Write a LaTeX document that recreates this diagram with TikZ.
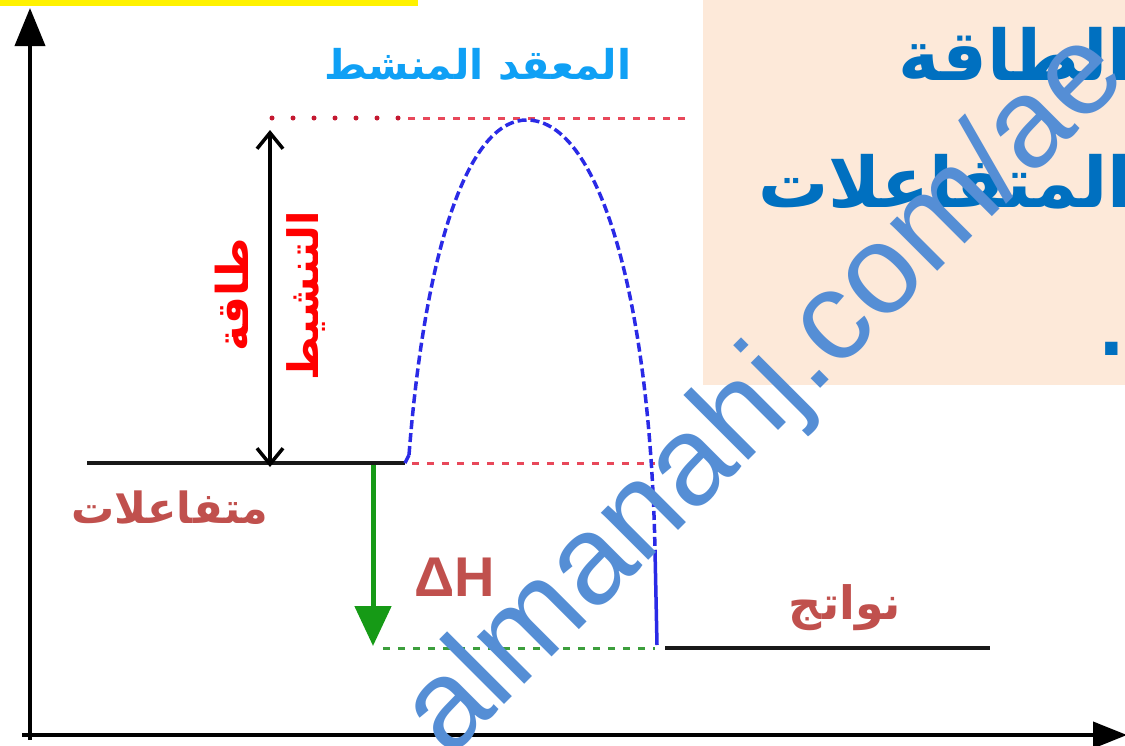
\documentclass[tikz,border=0pt]{standalone}
\usepackage{fontspec}
\setmainfont{Liberation Sans}
\newfontfamily\arabicfont[Script=Arabic]{DejaVu Sans}
\TeXXeTstate=1
\usetikzlibrary{arrows.meta}
\definecolor{peach}{HTML}{FDE9D9}
\definecolor{titleblue}{HTML}{0070C0}
\definecolor{cxblue}{HTML}{0FA0F5}
\definecolor{brick}{HTML}{C0504D}
\definecolor{curveblue}{HTML}{2A2AE6}
\definecolor{dotred}{HTML}{C41830}
\definecolor{dashred}{HTML}{E8485A}
\definecolor{dashgreen}{HTML}{3C9E3C}
\definecolor{arrowgreen}{HTML}{169A16}
\definecolor{wmblue}{HTML}{558ED5}
\tikzset{
  axisline/.style={line width=4pt, black},
  levelline/.style={line width=3.5pt, black!90},
  guideline/.style={line width=3pt, dash pattern=on 7pt off 8pt},
  arlabel/.style={inner sep=0pt, font=\arabicfont\bfseries\fontsize{41}{46}\selectfont},
  titletext/.style={inner sep=0pt, text=titleblue, font=\arabicfont\bfseries\fontsize{70}{80}\selectfont},
}
\begin{document}
\begin{tikzpicture}[x=1pt,y=-1pt]
\useasboundingbox (0,0) rectangle (1125,745);
\clip (0,0) rectangle (1125,745);
% background boxes
\fill[yellow] (0,0) rectangle (418,6);
\fill[peach] (703,0) rectangle (1125,385);
\node[titletext, anchor=base east] (t1) at (1132,80) {\beginR الطاقة\endR};
\node[titletext, anchor=base east] (t2) at (1132,207) {\beginR المتفاعلات\endR};
\node[titletext] (t3) at (1112,349) {.};

% coordinates
\coordinate (yb) at (30,740);
\coordinate (yt) at (30,8);
\coordinate (xl) at (22,735);
\coordinate (xr) at (1127,735);
\coordinate (r1) at (87,463);
\coordinate (r2) at (405,463);
\coordinate (p1) at (665,648);
\coordinate (p2) at (990,648);
\coordinate (ta) at (272,118);
\coordinate (tb) at (400,118);
\coordinate (tc) at (408,118);
\coordinate (td) at (685,118);
\coordinate (ra) at (412,463);
\coordinate (rb) at (655,463);
\coordinate (ga) at (383,648);
\coordinate (gb) at (655,648);
\coordinate (ea) at (270,130);
\coordinate (eb) at (270,467);
\coordinate (ha) at (373,465);
\coordinate (hb) at (373,646);
\coordinate (c0) at (405,463);
\coordinate (c1) at (409,455);
\coordinate (pk) at (528,120);
\coordinate (c2) at (655,550);
\coordinate (c3) at (657,645);

% axes
\draw[axisline, -{Triangle[length=38pt,width=30pt]}] (yb) -- (yt);
\draw[axisline, -{Triangle[length=34pt,width=26pt]}] (xl) -- (xr);

% guide lines
\draw[dotred, line width=5pt, line cap=round, dash pattern=on 0pt off 21pt] (ta) -- (tb);
\draw[dashred, guideline] (tc) -- (td);
\draw[dashred, guideline] (ra) -- (rb);
\draw[dashgreen, guideline] (ga) -- (gb);

% levels
\draw[levelline] (r1) -- (r2);
\draw[levelline] (p1) -- (p2);

% curve
\draw[curveblue, line width=3.5pt] (c0) -- (c1);
\draw[curveblue, line width=3.5pt, dash pattern=on 9pt off 4pt]
  (c1) .. controls (425,250) and (468,118) .. (pk)
       .. controls (600,122) and (650,300) .. (c2);
\draw[curveblue, line width=3.5pt] (c2) -- (c3);

% arrows
\draw[line width=3.5pt, {Straight Barb[length=16pt,width=26pt]}-{Straight Barb[length=16pt,width=26pt]}] (ea) -- (eb);
\draw[arrowgreen, line width=5pt, -{Triangle[length=40pt,width=36pt]}] (ha) -- (hb);

% labels
\node[arlabel, text=cxblue] (cx) at (478,64) {\beginR المعقد المنشط\endR};
\node[arlabel, text=red, rotate=90, font=\arabicfont\bfseries\fontsize{44}{46}\selectfont] (ea1) at (232,295) {\beginR طاقة\endR};
\node[arlabel, text=red, rotate=90, font=\arabicfont\bfseries\fontsize{42}{46}\selectfont] (ea2) at (306,296) {\beginR التنشيط\endR};
\node[arlabel, text=brick, font=\arabicfont\bfseries\fontsize{43}{46}\selectfont] (react) at (170,508) {\beginR متفاعلات\endR};
\node[arlabel, text=brick, font=\arabicfont\bfseries\fontsize{46}{50}\selectfont] (prod) at (845,608) {\beginR نواتج\endR};
\node[inner sep=0pt, text=brick, font=\bfseries\fontsize{56}{60}\selectfont] (dh) at (455,577) {ΔH};

% watermark
\node[anchor=base west, inner sep=0pt, rotate=45, text=wmblue, font=\fontsize{126.5}{130}\selectfont] (wm) at (449,760) {almanahj.com/ae};
\end{tikzpicture}
\end{document}
